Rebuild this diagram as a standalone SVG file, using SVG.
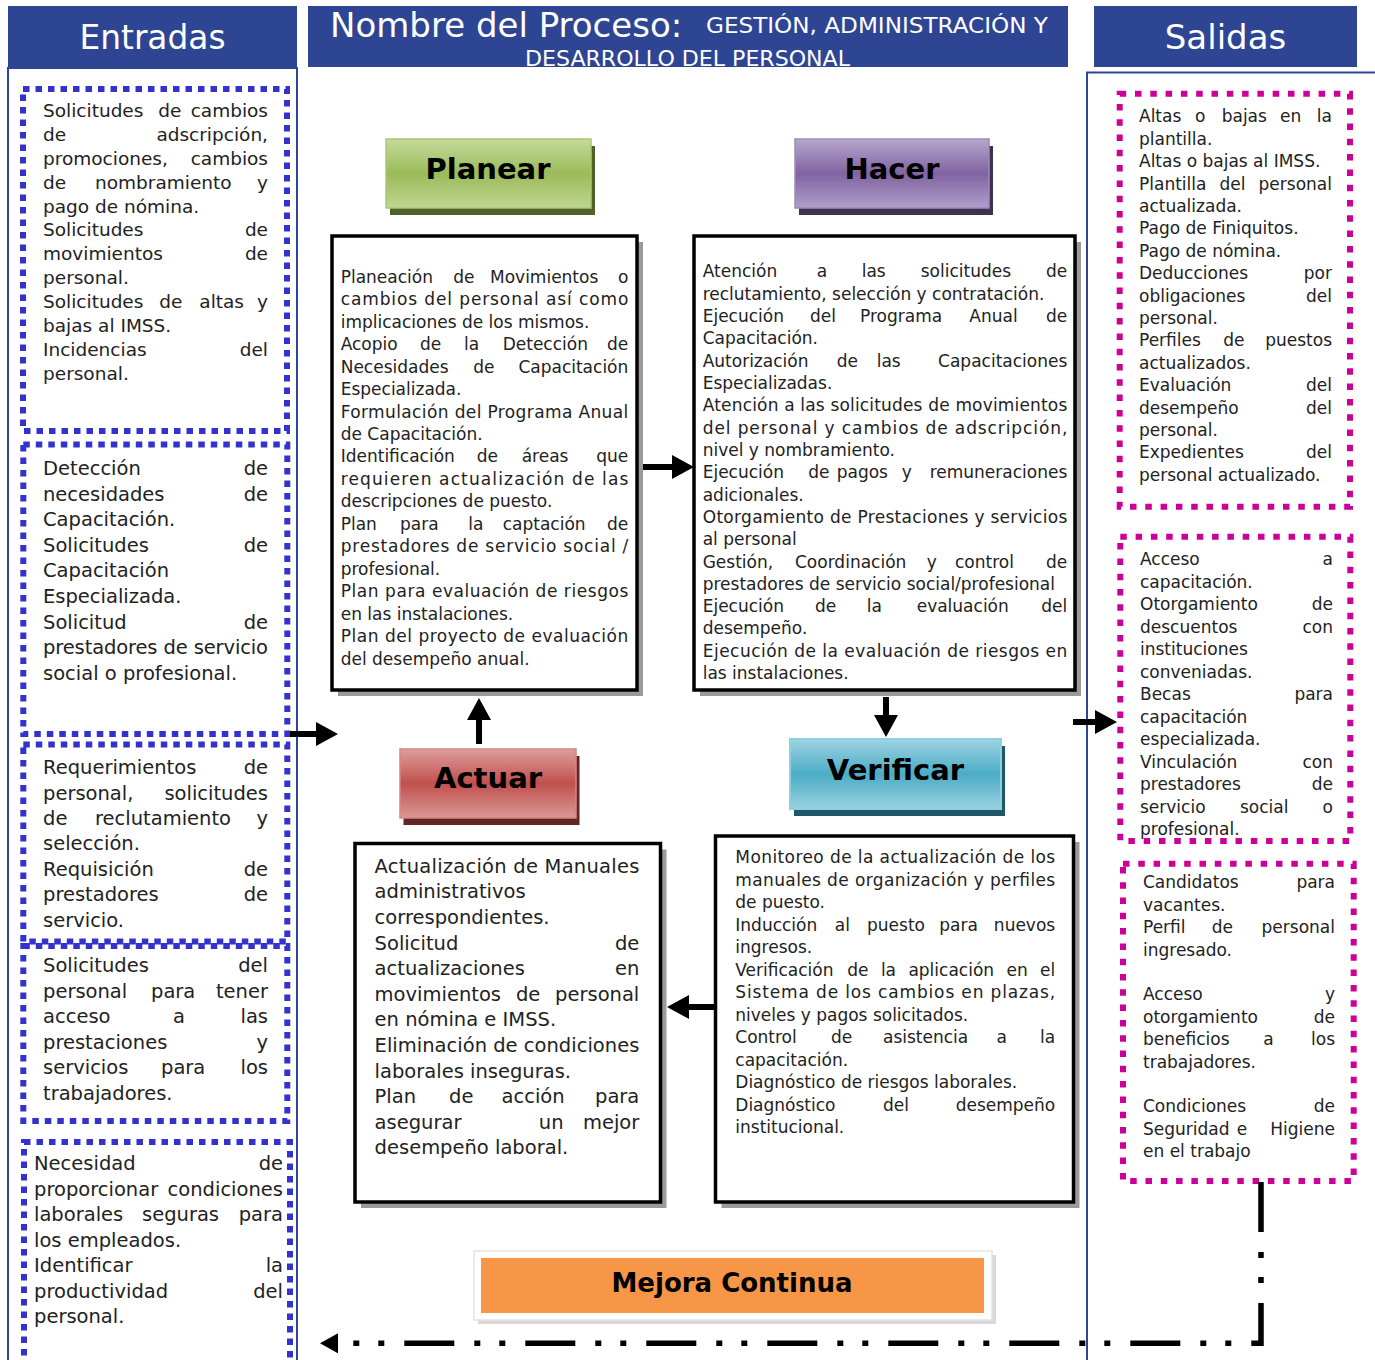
<svg xmlns="http://www.w3.org/2000/svg" width="1375" height="1360" viewBox="0 0 1375 1360">
<style>
text{font-family:"DejaVu Sans","Liberation Sans",sans-serif;fill:#222}
.r{text-anchor:end}
.c{text-anchor:middle}
.s17{font-size:17px}
.s185{font-size:18.5px}
.s195{font-size:19.5px}
.hd{fill:#2E4593}
text.hw{fill:#fff}
.frame{fill:#fff;stroke:#2E4593;stroke-width:2}
.db{fill:none;stroke:#3333CC;stroke-width:6;stroke-dasharray:6.5 6}
.dm{fill:none;stroke:#CC0099;stroke-width:6;stroke-dasharray:6.5 8.8}
.box{fill:#fff;stroke:#000;stroke-width:3.5}
.sh{fill:#9a9a9a}
text.lbl{font-size:29px;font-weight:bold;fill:#000;text-anchor:middle}
.ar{fill:none;stroke:#000;stroke-width:6;marker-end:url(#ah)}
</style>
<defs>
<linearGradient id="gG" x1="0" y1="0" x2="0" y2="1"><stop offset="0" stop-color="#C4DB9C"/><stop offset="0.5" stop-color="#9BBB59"/><stop offset="1" stop-color="#BFD693"/></linearGradient>
<linearGradient id="gP" x1="0" y1="0" x2="0" y2="1"><stop offset="0" stop-color="#B7A6CC"/><stop offset="0.5" stop-color="#8064A2"/><stop offset="1" stop-color="#B09ECA"/></linearGradient>
<linearGradient id="gR" x1="0" y1="0" x2="0" y2="1"><stop offset="0" stop-color="#DE9E9C"/><stop offset="0.5" stop-color="#C0504D"/><stop offset="1" stop-color="#DA9896"/></linearGradient>
<linearGradient id="gB" x1="0" y1="0" x2="0" y2="1"><stop offset="0" stop-color="#9ED4E2"/><stop offset="0.5" stop-color="#4BACC6"/><stop offset="1" stop-color="#98D1E0"/></linearGradient>
<marker id="ah" markerUnits="userSpaceOnUse" markerWidth="22" markerHeight="24" viewBox="0 0 22 24" refX="0" refY="12" orient="auto"><path d="M0,0 L22,12 L0,24 Z" fill="#000"/></marker>
<marker id="ah2" markerUnits="userSpaceOnUse" markerWidth="18" markerHeight="20" viewBox="0 0 18 20" refX="0" refY="10" orient="auto"><path d="M0,0 L18,10 L0,20 Z" fill="#000"/></marker>
</defs>
<rect x="0" y="0" width="1375" height="1360" fill="#fff"/>

<g id="entradas-header">
<rect class="hd" x="8" y="6" width="289" height="61"/>
<text class="hw c" x="152.5" y="49" font-size="34" textLength="146" lengthAdjust="spacingAndGlyphs">Entradas</text>
</g>
<g id="titulo-header">
<rect class="hd" x="308" y="6" width="760" height="61"/>
<text class="hw" x="330" y="37" font-size="34">Nombre del Proceso:</text>
<text class="hw" x="706" y="33" font-size="22" textLength="342" lengthAdjust="spacingAndGlyphs">GESTIÓN, ADMINISTRACIÓN Y</text>
<text class="hw" x="525" y="65.5" font-size="22" textLength="325" lengthAdjust="spacingAndGlyphs">DESARROLLO DEL PERSONAL</text>
</g>
<g id="salidas-header">
<rect class="hd" x="1094" y="6" width="263" height="61"/>
<text class="hw c" x="1225.5" y="49" font-size="34">Salidas</text>
</g>

<g id="entradas-panel"><rect class="frame" x="8" y="68" width="289" height="1300"/></g>
<g id="salidas-panel"><rect class="frame" x="1087" y="72.5" width="300" height="1300"/></g>

<g id="entrada-1" class="s185">
<rect class="db" x="23" y="89" width="264" height="342"/>
<text y="116.7"><tspan x="43">Solicitudes</tspan><tspan x="158.3">de</tspan></text><text class="r" x="268" y="116.7">cambios</text>
<text x="43" y="140.6">de</text><text class="r" x="268" y="140.6">adscripción,</text>
<text x="43" y="164.6">promociones,</text><text class="r" x="268" y="164.6">cambios</text>
<text y="188.5"><tspan x="43">de</tspan><tspan x="95">nombramiento</tspan></text><text class="r" x="268" y="188.5">y</text>
<text x="43" y="212.5">pago de nómina.</text>
<text x="43" y="236.4">Solicitudes</text><text class="r" x="268" y="236.4">de</text>
<text x="43" y="260.3">movimientos</text><text class="r" x="268" y="260.3">de</text>
<text x="43" y="284.3">personal.</text>
<text y="308.2"><tspan x="43">Solicitudes</tspan><tspan x="159.3">de</tspan><tspan x="199.3">altas</tspan></text><text class="r" x="268" y="308.2">y</text>
<text x="43" y="332.2">bajas al IMSS.</text>
<text x="43" y="356.1">Incidencias</text><text class="r" x="268" y="356.1">del</text>
<text x="43" y="380">personal.</text>
</g>

<g id="entrada-2" class="s195">
<rect class="db" x="23.3" y="444.5" width="264" height="289.5"/>
<text x="43" y="475">Detección</text><text class="r" x="268" y="475">de</text>
<text x="43" y="500.6">necesidades</text><text class="r" x="268" y="500.6">de</text>
<text x="43" y="526.2">Capacitación.</text>
<text x="43" y="551.8">Solicitudes</text><text class="r" x="268" y="551.8">de</text>
<text x="43" y="577.4">Capacitación</text>
<text x="43" y="603">Especializada.</text>
<text x="43" y="628.6">Solicitud</text><text class="r" x="268" y="628.6">de</text>
<text x="43" y="654.2" textLength="225" lengthAdjust="spacing">prestadores de servicio</text>
<text x="43" y="679.8">social o profesional.</text>
</g>

<g id="entrada-3" class="s195">
<rect class="db" x="23.3" y="744.5" width="264" height="197"/>
<text x="43" y="774">Requerimientos</text><text class="r" x="268" y="774">de</text>
<text x="43" y="799.5">personal,</text><text class="r" x="268" y="799.5">solicitudes</text>
<text y="824.9"><tspan x="43">de</tspan><tspan x="95">reclutamiento</tspan></text><text class="r" x="268" y="824.9">y</text>
<text x="43" y="850.4">selección.</text>
<text x="43" y="875.8">Requisición</text><text class="r" x="268" y="875.8">de</text>
<text x="43" y="901.3">prestadores</text><text class="r" x="268" y="901.3">de</text>
<text x="43" y="926.7">servicio.</text>
</g>

<g id="entrada-4" class="s195">
<rect class="db" x="23.3" y="946" width="264" height="175"/>
<text x="43" y="972">Solicitudes</text><text class="r" x="268" y="972">del</text>
<text y="997.6"><tspan x="43">personal</tspan><tspan x="151">para</tspan></text><text class="r" x="268" y="997.6">tener</text>
<text y="1023.2"><tspan x="43">acceso</tspan><tspan x="173">a</tspan></text><text class="r" x="268" y="1023.2">las</text>
<text x="43" y="1048.8">prestaciones</text><text class="r" x="268" y="1048.8">y</text>
<text y="1074.4"><tspan x="43">servicios</tspan><tspan x="161">para</tspan></text><text class="r" x="268" y="1074.4">los</text>
<text x="43" y="1100">trabajadores.</text>
</g>

<g id="entrada-5" class="s195">
<rect class="db" x="24" y="1142" width="266" height="222"/>
<text x="34" y="1170">Necesidad</text><text class="r" x="283" y="1170">de</text>
<text x="34" y="1195.5">proporcionar</text><text class="r" x="283" y="1195.5">condiciones</text>
<text y="1221"><tspan x="34">laborales</tspan><tspan x="142">seguras</tspan></text><text class="r" x="283" y="1221">para</text>
<text x="34" y="1246.5">los empleados.</text>
<text x="34" y="1272">Identificar</text><text class="r" x="283" y="1272">la</text>
<text x="34" y="1297.5">productividad</text><text class="r" x="283" y="1297.5">del</text>
<text x="34" y="1323">personal.</text>
</g>

<g id="planear-label">
<rect fill="#4F6228" x="390" y="146" width="205" height="69"/>
<rect fill="url(#gG)" stroke="#A9C871" stroke-width="1.5" x="386" y="139" width="205" height="69"/>
<text class="lbl" x="488" y="179">Planear</text>
</g>
<g id="planear-box" class="s17">
<rect class="sh" x="338" y="242" width="305" height="454"/>
<rect class="box" x="332" y="236" width="305" height="454"/>
<text y="282.7"><tspan x="340.7">Planeación</tspan><tspan x="453.3">de</tspan><tspan x="490">Movimientos</tspan></text><text class="r" x="628.3" y="282.7">o</text>
<text x="340.7" y="305.2" textLength="287.6" lengthAdjust="spacing">cambios del personal así como</text>
<text x="340.7" y="327.6">implicaciones de los mismos.</text>
<text y="350.1"><tspan x="340.7">Acopio</tspan><tspan x="420">de</tspan><tspan x="464">la</tspan><tspan x="502.7">Detección</tspan></text><text class="r" x="628.3" y="350.1">de</text>
<text y="372.5"><tspan x="340.7">Necesidades</tspan><tspan x="473.3">de</tspan></text><text class="r" x="628.3" y="372.5">Capacitación</text>
<text x="340.7" y="395">Especializada.</text>
<text x="340.7" y="417.5" textLength="287.6" lengthAdjust="spacing">Formulación del Programa Anual</text>
<text x="340.7" y="439.9">de Capacitación.</text>
<text y="462.4"><tspan x="340.7">Identificación</tspan><tspan x="476.7">de</tspan><tspan x="521.7">áreas</tspan></text><text class="r" x="628.3" y="462.4">que</text>
<text x="340.7" y="484.8" textLength="287.6" lengthAdjust="spacing">requieren actualización de las</text>
<text x="340.7" y="507.3">descripciones de puesto.</text>
<text y="529.8"><tspan x="340.7">Plan</tspan><tspan x="400">para</tspan><tspan x="468.3">la</tspan><tspan x="502.7">captación</tspan></text><text class="r" x="628.3" y="529.8">de</text>
<text x="340.7" y="552.2" textLength="287.6" lengthAdjust="spacing">prestadores de servicio social /</text>
<text x="340.7" y="574.7">profesional.</text>
<text x="340.7" y="597.1" textLength="287.6" lengthAdjust="spacing">Plan para evaluación de riesgos</text>
<text x="340.7" y="619.6">en las instalaciones.</text>
<text x="340.7" y="642.1" textLength="287.6" lengthAdjust="spacing">Plan del proyecto de evaluación</text>
<text x="340.7" y="664.5">del desempeño anual.</text>
</g>

<g id="hacer-label">
<rect fill="#3F3151" x="799" y="146" width="194" height="69"/>
<rect fill="url(#gP)" stroke="#9E8AB8" stroke-width="1.5" x="795" y="139" width="194" height="69"/>
<text class="lbl" x="892" y="179">Hacer</text>
</g>
<g id="hacer-box" class="s17">
<rect class="sh" x="700" y="242" width="381" height="454"/>
<rect class="box" x="694" y="236" width="381" height="454"/>
<text y="277.3"><tspan x="702.7">Atención</tspan><tspan x="816.7">a</tspan><tspan x="861.7">las</tspan><tspan x="920.7">solicitudes</tspan></text><text class="r" x="1067.3" y="277.3">de</text>
<text x="702.7" y="299.6">reclutamiento, selección y contratación.</text>
<text y="321.9"><tspan x="702.7">Ejecución</tspan><tspan x="810">del</tspan><tspan x="860">Programa</tspan><tspan x="969.3">Anual</tspan></text><text class="r" x="1067.3" y="321.9">de</text>
<text x="702.7" y="344.3">Capacitación.</text>
<text y="366.6"><tspan x="702.7">Autorización</tspan><tspan x="836.7">de</tspan><tspan x="876.7">las</tspan></text><text class="r" x="1067.3" y="366.6">Capacitaciones</text>
<text x="702.7" y="388.9">Especializadas.</text>
<text x="702.7" y="411.2" textLength="364.6" lengthAdjust="spacing">Atención a las solicitudes de movimientos</text>
<text x="702.7" y="433.5" textLength="364.6" lengthAdjust="spacing">del personal y cambios de adscripción,</text>
<text x="702.7" y="455.9">nivel y nombramiento.</text>
<text y="478.2"><tspan x="702.7">Ejecución</tspan><tspan x="808.3">de</tspan><tspan x="836.7">pagos</tspan><tspan x="901.7">y</tspan></text><text class="r" x="1067.3" y="478.2">remuneraciones</text>
<text x="702.7" y="500.5">adicionales.</text>
<text x="702.7" y="522.8" textLength="364.6" lengthAdjust="spacing">Otorgamiento de Prestaciones y servicios</text>
<text x="702.7" y="545.1">al personal</text>
<text y="567.5"><tspan x="702.7">Gestión,</tspan><tspan x="795">Coordinación</tspan><tspan x="926.7">y</tspan><tspan x="955">control</tspan></text><text class="r" x="1067.3" y="567.5">de</text>
<text x="702.7" y="589.8">prestadores de servicio social/profesional</text>
<text y="612.1"><tspan x="702.7">Ejecución</tspan><tspan x="815">de</tspan><tspan x="866.7">la</tspan><tspan x="916.7">evaluación</tspan></text><text class="r" x="1067.3" y="612.1">del</text>
<text x="702.7" y="634.4">desempeño.</text>
<text x="702.7" y="656.7" textLength="364.6" lengthAdjust="spacing">Ejecución de la evaluación de riesgos en</text>
<text x="702.7" y="679.1">las instalaciones.</text>
</g>

<g id="verificar-label">
<rect fill="#205867" x="794" y="746" width="211" height="70"/>
<rect fill="url(#gB)" stroke="#8FD0E0" stroke-width="2" x="790" y="739" width="211" height="70"/>
<text class="lbl" x="895.5" y="780">Verificar</text>
</g>
<g id="verificar-box" class="s17">
<rect class="sh" x="721.5" y="842" width="358" height="366"/>
<rect class="box" x="715.5" y="836" width="358" height="366"/>
<text x="735.3" y="863.3" textLength="319.9" lengthAdjust="spacing">Monitoreo de la actualización de los</text>
<text x="735.3" y="885.8" textLength="319.9" lengthAdjust="spacing">manuales de organización y perfiles</text>
<text x="735.3" y="908.3">de puesto.</text>
<text y="930.8"><tspan x="735.3">Inducción</tspan><tspan x="834.8">al</tspan><tspan x="867">puesto</tspan><tspan x="939.3">para</tspan></text><text class="r" x="1055.2" y="930.8">nuevos</text>
<text x="735.3" y="953.3">ingresos.</text>
<text y="975.8"><tspan x="735.3">Verificación</tspan><tspan x="847.2">de</tspan><tspan x="880.9">la</tspan><tspan x="908.4">aplicación</tspan><tspan x="1006.5">en</tspan></text><text class="r" x="1055.2" y="975.8">el</text>
<text x="735.3" y="998.3" textLength="319.9" lengthAdjust="spacing">Sistema de los cambios en plazas,</text>
<text x="735.3" y="1020.8">niveles y pagos solicitados.</text>
<text y="1043.3"><tspan x="735.3">Control</tspan><tspan x="831">de</tspan><tspan x="883">asistencia</tspan><tspan x="996.5">a</tspan></text><text class="r" x="1055.2" y="1043.3">la</text>
<text x="735.3" y="1065.8">capacitación.</text>
<text x="735.3" y="1088.3">Diagnóstico de riesgos laborales.</text>
<text y="1110.8"><tspan x="735.3">Diagnóstico</tspan><tspan x="883">del</tspan></text><text class="r" x="1055.2" y="1110.8">desempeño</text>
<text x="735.3" y="1133.3">institucional.</text>
</g>

<g id="actuar-label">
<rect fill="#632523" x="403.5" y="756" width="176" height="69"/>
<rect fill="url(#gR)" stroke="#D68584" stroke-width="1.5" x="400" y="749" width="176" height="69"/>
<text class="lbl" x="488" y="788">Actuar</text>
</g>
<g id="actuar-box" class="s195">
<rect class="sh" x="361" y="849.5" width="305.5" height="358.5"/>
<rect class="box" x="355" y="843.5" width="305.5" height="358.5"/>
<text x="374.6" y="872.7" textLength="264.7" lengthAdjust="spacing">Actualización de Manuales</text>
<text x="374.6" y="898.3">administrativos</text>
<text x="374.6" y="923.9">correspondientes.</text>
<text x="374.6" y="949.5">Solicitud</text><text class="r" x="639.3" y="949.5">de</text>
<text x="374.6" y="975.1">actualizaciones</text><text class="r" x="639.3" y="975.1">en</text>
<text y="1000.7"><tspan x="374.6">movimientos</tspan><tspan x="515.9">de</tspan></text><text class="r" x="639.3" y="1000.7">personal</text>
<text x="374.6" y="1026.3">en nómina e IMSS.</text>
<text x="374.6" y="1051.9" textLength="264.7" lengthAdjust="spacing">Eliminación de condiciones</text>
<text x="374.6" y="1077.5">laborales inseguras.</text>
<text y="1103.1"><tspan x="374.6">Plan</tspan><tspan x="449">de</tspan><tspan x="501.5">acción</tspan></text><text class="r" x="639.3" y="1103.1">para</text>
<text y="1128.7"><tspan x="374.6">asegurar</tspan><tspan x="538.8">un</tspan></text><text class="r" x="639.3" y="1128.7">mejor</text>
<text x="374.6" y="1154.3">desempeño laboral.</text>
</g>

<g id="salida-1" class="s17">
<rect class="dm" x="1119.7" y="93.7" width="230.3" height="413"/>
<text y="122.3"><tspan x="1139">Altas</tspan><tspan x="1195">o</tspan><tspan x="1221.7">bajas</tspan><tspan x="1280">en</tspan></text><text class="r" x="1332" y="122.3">la</text>
<text x="1139" y="144.7">plantilla.</text>
<text x="1139" y="167.1">Altas o bajas al IMSS.</text>
<text y="189.5"><tspan x="1139">Plantilla</tspan><tspan x="1219.5">del</tspan></text><text class="r" x="1332" y="189.5">personal</text>
<text x="1139" y="211.9">actualizada.</text>
<text x="1139" y="234.3">Pago de Finiquitos.</text>
<text x="1139" y="256.7">Pago de nómina.</text>
<text x="1139" y="279.1">Deducciones</text><text class="r" x="1332" y="279.1">por</text>
<text x="1139" y="301.5">obligaciones</text><text class="r" x="1332" y="301.5">del</text>
<text x="1139" y="323.9">personal.</text>
<text y="346.3"><tspan x="1139">Perfiles</tspan><tspan x="1223.3">de</tspan></text><text class="r" x="1332" y="346.3">puestos</text>
<text x="1139" y="368.7">actualizados.</text>
<text x="1139" y="391.1">Evaluación</text><text class="r" x="1332" y="391.1">del</text>
<text x="1139" y="413.5">desempeño</text><text class="r" x="1332" y="413.5">del</text>
<text x="1139" y="435.9">personal.</text>
<text x="1139" y="458.3">Expedientes</text><text class="r" x="1332" y="458.3">del</text>
<text x="1139" y="480.7">personal actualizado.</text>
</g>

<g id="salida-2" class="s17">
<rect class="dm" x="1120.3" y="536.7" width="230" height="304.3"/>
<text x="1140" y="565">Acceso</text><text class="r" x="1333" y="565">a</text>
<text x="1140" y="587.5">capacitación.</text>
<text x="1140" y="610">Otorgamiento</text><text class="r" x="1333" y="610">de</text>
<text x="1140" y="632.5">descuentos</text><text class="r" x="1333" y="632.5">con</text>
<text x="1140" y="655">instituciones</text>
<text x="1140" y="677.5">conveniadas.</text>
<text x="1140" y="700">Becas</text><text class="r" x="1333" y="700">para</text>
<text x="1140" y="722.5">capacitación</text>
<text x="1140" y="745">especializada.</text>
<text x="1140" y="767.5">Vinculación</text><text class="r" x="1333" y="767.5">con</text>
<text x="1140" y="790">prestadores</text><text class="r" x="1333" y="790">de</text>
<text y="812.5"><tspan x="1140">servicio</tspan><tspan x="1240">social</tspan></text><text class="r" x="1333" y="812.5">o</text>
<text x="1140" y="835">profesional.</text>
</g>

<g id="salida-3" class="s17">
<rect class="dm" x="1123" y="863.7" width="230.7" height="317.3"/>
<text x="1143" y="888.3">Candidatos</text><text class="r" x="1335" y="888.3">para</text>
<text x="1143" y="910.7">vacantes.</text>
<text y="933.1"><tspan x="1143">Perfil</tspan><tspan x="1211.7">de</tspan></text><text class="r" x="1335" y="933.1">personal</text>
<text x="1143" y="955.5">ingresado.</text>
<text x="1143" y="1000.3">Acceso</text><text class="r" x="1335" y="1000.3">y</text>
<text x="1143" y="1022.7">otorgamiento</text><text class="r" x="1335" y="1022.7">de</text>
<text y="1045.1"><tspan x="1143">beneficios</tspan><tspan x="1263.3">a</tspan></text><text class="r" x="1335" y="1045.1">los</text>
<text x="1143" y="1067.5">trabajadores.</text>
<text x="1143" y="1112.3">Condiciones</text><text class="r" x="1335" y="1112.3">de</text>
<text y="1134.7"><tspan x="1143">Seguridad</tspan><tspan x="1236.7">e</tspan></text><text class="r" x="1335" y="1134.7">Higiene</text>
<text x="1143" y="1157.1">en el trabajo</text>
</g>

<g id="mejora-continua">
<rect fill="#d9d9d9" x="478" y="1255" width="518" height="69"/>
<rect fill="#fff" stroke="#e3e3e3" stroke-width="1.5" x="474" y="1251" width="518" height="69"/>
<rect fill="#F79646" x="481" y="1258" width="503" height="55"/>
<text x="732" y="1292" font-size="26" font-weight="bold" fill="#000" text-anchor="middle" style="fill:#000">Mejora Continua</text>
</g>

<g id="connectors">
<path class="ar" d="M290,734 H316"/>
<path class="ar" d="M643,467 H672"/>
<path class="ar" d="M886,697 V715"/>
<path class="ar" d="M715,1007 H689"/>
<path class="ar" d="M479,744 V720"/>
<path class="ar" d="M1073,722 H1095"/>
<path d="M1261,1182 V1343.3 H338" fill="none" stroke="#000" stroke-width="5.5" stroke-dasharray="50 20 6 19 6 20" marker-end="url(#ah2)"/>
</g>
</svg>
